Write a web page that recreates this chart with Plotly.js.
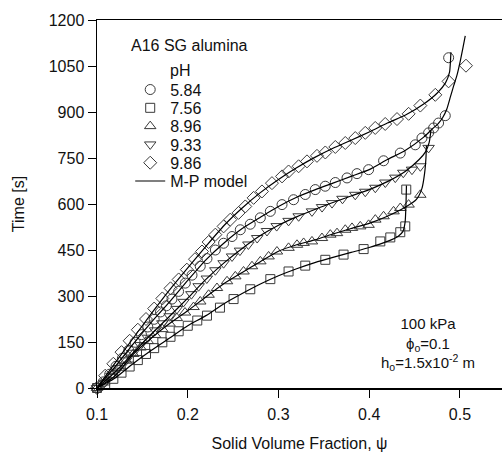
<!DOCTYPE html>
<html>
<head>
<meta charset="utf-8">
<script src="https://cdn.plot.ly/plotly-3.0.1.min.js"></script>
<style>html,body{margin:0;padding:0;background:#fff;}#chart{width:502px;height:453px;}</style>
</head>
<body>
<div id="chart"></div>
<script>
// ---- data ----
var phLabels = ["5.84", "7.56", "8.96", "9.33", "9.86"];

// pH 5.84 (circles)
var circX = [0.100,0.107,0.114,0.121,0.128,0.135,0.142,0.149,0.156,0.163,0.170,0.1765,0.1826,0.1899,0.1973,0.2047,0.2138,0.2212,0.2304,0.2395,0.2488,0.2579,0.2689,0.280,0.291,0.3039,0.3166,0.3295,0.3405,0.3515,0.3626,0.3755,0.3865,0.3993,0.4158,0.4342,0.4507,0.4581,0.4654,0.4709,0.4764,0.4838,0.4875];
var circY = [0,20,45,71,97,123,149,174,199,224,248,268,290,315,342,368,397,422,450,472,494,516,534,555,576,598,614,631,647,658,670,685,699,712,741,766,793,815,832,848,864,888,1077];

// pH 7.56 (squares)
var sqX = [0.100,0.109,0.118,0.127,0.136,0.145,0.154,0.163,0.172,0.181,0.190,0.200,0.2105,0.2212,0.2355,0.2505,0.2689,0.291,0.3111,0.3295,0.3516,0.3717,0.3938,0.4122,0.4232,0.4342,0.4397,0.4408];
var sqY = [0,12,30,50,70,91,111,130,149,167,185,203,220,236,262,290,322,355,380,399,418,435,453,478,491,508,527,647];

// pH 8.96 (triangles up)
var upX = [0.100,0.108,0.116,0.124,0.132,0.140,0.148,0.156,0.164,0.172,0.180,0.188,0.197,0.2064,0.2138,0.223,0.2322,0.2433,0.2524,0.2615,0.2708,0.280,0.2891,0.2983,0.3111,0.3204,0.3277,0.3369,0.3479,0.3571,0.3645,0.3736,0.381,0.3901,0.3993,0.4067,0.4158,0.4268,0.4342,0.4434,0.4563];
var upY = [0,18,42,66,89,111,132,153,173,192,210,228,246,264,282,304,326,348,364,380,397,413,429,445,457,467,473,478,489,500,505,516,522,527,532,549,560,576,587,598,630];

// pH 9.33 (triangles down)
var dnX = [0.100,0.108,0.116,0.124,0.132,0.140,0.148,0.156,0.164,0.172,0.180,0.188,0.1954,0.204,0.212,0.221,0.2304,0.2395,0.2488,0.2575,0.2668,0.2765,0.2873,0.298,0.3111,0.3222,0.3369,0.348,0.359,0.3705,0.3846,0.3956,0.4067,0.4177,0.4287,0.4375,0.4471,0.4563,0.4654];
var dnY = [0,17,40,65,90,115,140,164,188,211,234,258,281,306,332,357,384,407,429,448,468,489,512,528,545,560,576,590,603,617,630,640,653,670,686,702,712,723,783];

// pH 9.86 (diamonds)
var diaX = [0.100,0.109,0.118,0.127,0.136,0.145,0.154,0.163,0.172,0.181,0.190,0.199,0.208,0.2157,0.223,0.2304,0.2395,0.2469,0.256,0.2634,0.2726,0.2818,0.2928,0.3039,0.3111,0.3222,0.3314,0.3424,0.3516,0.3626,0.3736,0.3846,0.3956,0.4066,0.4176,0.4306,0.4434,0.4563,0.4728,0.4874,0.5066];
var diaY = [0,40,79,117,154,190,225,259,292,325,354,386,420,445,476,500,527,549,571,592,620,641,668,690,706,723,739,757,768,786,799,815,832,848,861,877,894,921,956,1000,1051];

// M-P model curves
var mpCircX = [0.1,0.12,0.14,0.16,0.18,0.2,0.22,0.24,0.26,0.28,0.30,0.32,0.34,0.36,0.38,0.40,0.42,0.44,0.46,0.47,0.476,0.481,0.4855,0.4895,0.493,0.4967,0.5003,0.5033,0.5058];
var mpCircY = [0,70,144,215,281,351,418,473,520,557,592,622,646,668,690,712,745,775,818,846,862,882,910,950,985,1020,1066,1110,1148];

var mpSqX = [0.1,0.12,0.14,0.16,0.18,0.2,0.22,0.24,0.26,0.28,0.30,0.32,0.34,0.36,0.38,0.40,0.42,0.432,0.437,0.4395,0.4405,0.441];
var mpSqY = [0,33,80,123,163,203,236,275,308,339,366,389,409,426,442,458,478,495,510,540,600,660];

var mpUpX = [0.1,0.12,0.14,0.16,0.18,0.2,0.22,0.24,0.26,0.28,0.30,0.32,0.34,0.36,0.38,0.40,0.42,0.44,0.452,0.458,0.461,0.4625,0.463];
var mpUpY = [0,40,110,163,210,252,297,341,377,412,446,467,483,502,520,537,560,590,615,650,700,750,790];

var mpDnX = [0.1,0.12,0.14,0.16,0.18,0.2,0.22,0.24,0.26,0.28,0.30,0.32,0.34,0.36,0.38,0.40,0.42,0.44,0.455,0.462,0.466,0.468];
var mpDnY = [0,52,115,176,234,293,354,408,455,497,531,558,582,605,626,647,673,707,745,770,800,840];

var mpDiaX = [0.1,0.12,0.14,0.16,0.18,0.2,0.22,0.24,0.26,0.28,0.30,0.32,0.34,0.36,0.38,0.40,0.42,0.44,0.46,0.475,0.484,0.4885,0.4895,0.49];
var mpDiaY = [0,82,163,243,320,392,462,530,587,637,680,718,752,782,808,835,864,890,926,962,995,1030,1065,1095];

var xTickVals = [0.1,0.2,0.3,0.4,0.5];
var xTickText = ["0.1","0.2","0.3","0.4","0.5"];
var yTickVals = [0,150,300,450,600,750,900,1050,1200];

// ---- chart ----
var FONT = "Liberation Sans, Arial, Helvetica, sans-serif";
var mc = "#3a3a3a";
function mk(x, y, name, sym, size) {
  return {x: x, y: y, name: name, type: "scatter", mode: "markers", cliponaxis: false,
    marker: {symbol: sym, size: size, color: mc, line: {color: mc, width: 1}}};
}
function ln(x, y, show) {
  return {x: x, y: y, name: "M-P model", type: "scatter", mode: "lines", showlegend: show,
    cliponaxis: false, line: {color: "#000", width: 1.2, shape: "spline", smoothing: 0.6}};
}
var data = [
  mk(circX, circY, phLabels[0], "circle-open", 10),
  mk(sqX, sqY, phLabels[1], "square-open", 9),
  mk(upX, upY, phLabels[2], "triangle-up-open", 10),
  mk(dnX, dnY, phLabels[3], "triangle-down-open", 10),
  mk(diaX, diaY, phLabels[4], "diamond-open", 10),
  ln(mpDiaX, mpDiaY, true),
  ln(mpCircX, mpCircY, false),
  ln(mpDnX, mpDnY, false),
  ln(mpUpX, mpUpY, false),
  ln(mpSqX, mpSqY, false)
];

var axisCommon = {showline: true, linecolor: "#000", linewidth: 1.5, mirror: true,
  ticks: "outside", ticklen: 8, tickwidth: 1, tickcolor: "#000", showgrid: false, zeroline: false,
  tickfont: {family: FONT, size: 16, color: "#111"}};

var layout = {
  width: 502, height: 453,
  margin: {l: 97, r: 0, t: 20, b: 65},
  paper_bgcolor: "#fff", plot_bgcolor: "#fff",
  font: {family: FONT, size: 16, color: "#111"},
  xaxis: Object.assign({}, axisCommon, {range: [0.1, 0.5463], tickvals: xTickVals, ticktext: xTickText,
    ticklabelstandoff: 3,
    title: {text: "Solid Volume Fraction, \u03c8", font: {family: FONT, size: 16, color: "#111"}, standoff: 16}}),
  yaxis: Object.assign({}, axisCommon, {range: [0, 1200], tickvals: yTickVals,
    title: {text: "Time [s]", font: {family: FONT, size: 16, color: "#111"}, standoff: 20}}),
  showlegend: true,
  legend: {x: 0.082, y: 0.857, xanchor: "left", yanchor: "top", bgcolor: "rgba(0,0,0,0)",
    borderwidth: 0, font: {family: FONT, size: 16, color: "#111"}, tracegroupgap: 0},
  annotations: [
    {xref: "paper", yref: "paper", x: 0.2296, y: 0.932, text: "A16 SG alumina", showarrow: false,
      xanchor: "center", yanchor: "middle", font: {family: FONT, size: 16, color: "#111"}},
    {xref: "paper", yref: "paper", x: 0.205, y: 0.864, text: "pH", showarrow: false,
      xanchor: "center", yanchor: "middle", font: {family: FONT, size: 16, color: "#111"}},
    {xref: "x", yref: "y", x: 0.465, y: 144, showarrow: false, align: "center",
      xanchor: "center", yanchor: "middle", font: {family: FONT, size: 15, color: "#111"},
      text: "100 kPa<br>\u03d5<sub>o</sub>=0.1<br>h<sub>o</sub>=1.5x10<sup>-2</sup> m"}
  ]
};

Plotly.newPlot("chart", data, layout, {staticPlot: true, displayModeBar: false}).then(function (gd) {
  // tighten legend row spacing to match the reference (18.3 px per row)
  var items = gd.querySelectorAll(".legend .traces");
  if (!items.length) return;
  var m = /translate\(\s*([-\d.]+)[ ,]+([-\d.]+)\s*\)/.exec(items[0].getAttribute("transform") || "");
  if (!m) return;
  var x0 = parseFloat(m[1]), y0 = parseFloat(m[2]);
  for (var i = 0; i < items.length; i++) {
    items[i].setAttribute("transform", "translate(" + x0 + "," + (y0 + i * 18.3) + ")");
  }
});
</script>
</body>
</html>
